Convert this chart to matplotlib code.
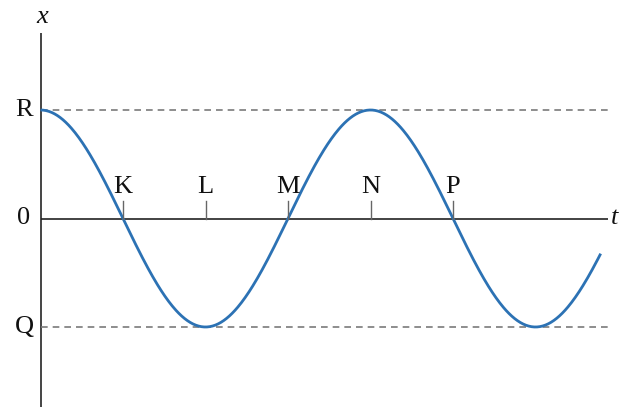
import numpy as np
import matplotlib
matplotlib.use("Agg")
import matplotlib.pyplot as plt

# Time is measured in quarter periods; displacement in units of amplitude.
point_labels = ["K", "L", "M", "N", "P"]
point_times = [1, 2, 3, 4, 5]
level_labels = ["R", "0", "Q"]
level_values = [1.0, 0.0, -1.0]
t_end = 6.79
amplitude = 1.0

serif = ["Liberation Serif", "DejaVu Serif"]

fig = plt.figure(figsize=(6.21, 4.07), dpi=100)
ax = fig.add_axes([0, 0, 1, 1])
ax.set_xlim(-40.5 / 82.5, (621 - 40.5) / 82.5)
ax.set_ylim(-(407 - 218.5) / 108.5, 218.5 / 108.5)
ax.axis("off")

# axes
ax.plot([0, 0], [-1.737, 1.71], color="#444444", lw=1.4, solid_capstyle="butt")
ax.plot([0, 6.88], [0, 0], color="#222222", lw=1.2, solid_capstyle="butt")

# reference levels R and Q
for v in (level_values[0], level_values[2]):
    ax.plot([0, 6.9], [v, v], color="#7a7a7a", lw=1.2, dashes=(4, 3))

# displacement curve
t = np.linspace(0, t_end, 600)
x = amplitude * np.cos(np.pi * t / 2)
ax.plot(t, x, color="#2c72b4", lw=2.0, solid_capstyle="butt")

# time markers
for tt, lab in zip(point_times, point_labels):
    ax.plot([tt, tt], [0, 0.16], color="#666666", lw=1.0)
    ax.text(tt, 0.19, lab, ha="center", va="bottom", fontsize=19,
            family=serif, color="#111111")

# level labels
for lab, v in zip(level_labels, level_values):
    ax.text(-0.2, v, lab, ha="center", va="center", fontsize=19,
            family=serif, color="#111111")

# axis names
ax.text(0.02, 1.86, "x", ha="center", va="center", fontsize=19,
        family=serif, style="italic", color="#111111")
ax.text(6.91, 0.0, "t", ha="left", va="center", fontsize=19,
        family=serif, style="italic", color="#111111")

fig.savefig("out.png", dpi=100)
